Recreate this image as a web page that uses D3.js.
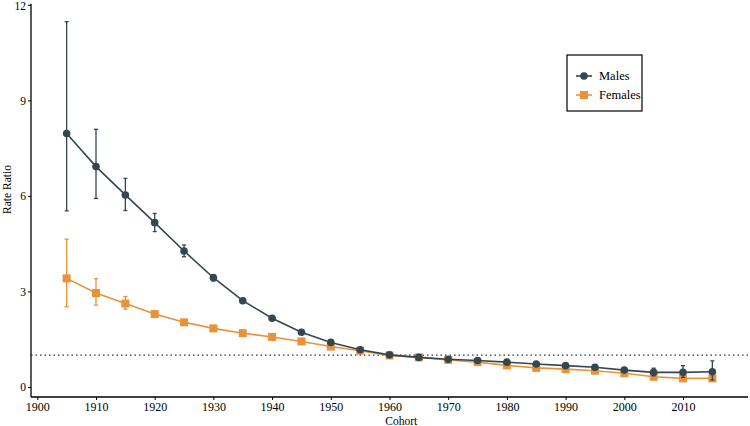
<!DOCTYPE html>
<html><head><meta charset="utf-8">
<script src="https://cdn.jsdelivr.net/npm/d3@7"></script>
<style>body{margin:0;background:#fff}svg{display:block}svg text{font-family:"Liberation Serif","Times New Roman",serif}</style>
</head><body><svg id="c" width="750" height="426"></svg>
<script>
const cohorts = [1905,1910,1915,1920,1925,1930,1935,1940,1945,1950,1955,1960,1965,1970,1975,1980,1985,1990,1995,2000,2005,2010,2015];
const malesRR    = [7.96,6.92,6.03,5.16,4.27,3.43,2.71,2.16,1.72,1.40,1.17,1.01,0.93,0.87,0.83,0.78,0.72,0.67,0.62,0.53,0.46,0.46,0.48];
const malesLow   = [5.53,5.92,5.54,4.88,4.09,3.33,2.65,2.12,1.69,1.37,1.14,0.98,0.90,0.84,0.80,0.75,0.69,0.63,0.57,0.46,0.35,0.30,0.22];
const malesHigh  = [11.47,8.09,6.55,5.45,4.46,3.53,2.77,2.20,1.75,1.43,1.20,1.04,0.96,0.90,0.86,0.81,0.75,0.71,0.67,0.61,0.59,0.67,0.82];
const femalesRR  = [3.41,2.95,2.62,2.29,2.03,1.84,1.69,1.57,1.43,1.27,1.14,0.99,0.93,0.85,0.78,0.68,0.60,0.56,0.51,0.43,0.32,0.27,0.27];
const femalesLow = [2.52,2.57,2.44,2.19,1.98,1.80,1.66,1.54,1.40,1.25,1.12,0.97,0.91,0.83,0.76,0.66,0.58,0.54,0.49,0.40,0.29,0.24,0.23];
const femalesHigh= [4.64,3.40,2.84,2.38,2.08,1.88,1.72,1.60,1.46,1.30,1.17,1.01,0.95,0.87,0.80,0.70,0.62,0.58,0.53,0.46,0.36,0.31,0.31];
const xTicks = [1900,1910,1920,1930,1940,1950,1960,1970,1980,1990,2000,2010];
const yTicks = [0,3,6,9,12];
const seriesNames = ["Males","Females"];

const colM = "#34474f", colF = "#e8923a";
const font = "Liberation Serif";
const svg = d3.select("#c");
const pLeft = 31, pRight = 748, pTop = 4.8, pBottom = 397;
const x = d3.scaleLinear().domain([1900, 2010]).range([37.3, 683]);
const y = d3.scaleLinear().domain([0, 12]).range([387, 4.8]);

// axes
const xAxis = d3.axisBottom(x).tickValues(xTicks).tickFormat(d3.format("d")).tickSize(3).tickPadding(2);
const yAxis = d3.axisLeft(y).tickValues(yTicks).tickSize(3).tickPadding(2);
const gx = svg.append("g").attr("transform", `translate(0,${pBottom})`).call(xAxis);
gx.select(".domain").remove();
const gy = svg.append("g").attr("transform", `translate(${pLeft},0)`).call(yAxis);
gy.select(".domain").remove();
[gx, gy].forEach(g => {
  g.attr("font-family", font);
  g.selectAll("text").attr("font-family", font).attr("font-size", 12).attr("fill", "#000");
  g.selectAll("line").attr("stroke", "#000").attr("stroke-width", 1);
});
gy.selectAll("text").attr("font-size", 11.5).attr("dy", d => d === 12 ? "0.45em" : "0.32em");
svg.append("line").attr("x1", pLeft).attr("x2", pRight).attr("y1", pBottom).attr("y2", pBottom).attr("stroke", "#000").attr("stroke-width", 1.3);
svg.append("line").attr("x1", pLeft).attr("x2", pLeft).attr("y1", pTop - 1).attr("y2", pBottom).attr("stroke", "#000").attr("stroke-width", 1.3);

svg.append("text").attr("x", x(1962)).attr("y", 425).attr("text-anchor", "middle")
  .attr("font-family", font).attr("font-size", 11.5).text("Cohort");
svg.append("text").attr("transform", `translate(11,${y(6.2)}) rotate(-90)`).attr("text-anchor", "middle")
  .attr("font-family", font).attr("font-size", 11.5).text("Rate Ratio");

// reference line
svg.append("line").attr("x1", pLeft).attr("x2", pRight).attr("y1", y(1)).attr("y2", y(1))
  .attr("stroke", "#333").attr("stroke-width", 1.3).attr("stroke-dasharray", "1.5,3");

function drawSeries(vals, lo, hi, col, shape) {
  const g = svg.append("g");
  cohorts.forEach((c, i) => {
    g.append("line").attr("x1", x(c)).attr("x2", x(c)).attr("y1", y(lo[i])).attr("y2", y(hi[i])).attr("stroke", col).attr("stroke-width", 1.3);
    [lo[i], hi[i]].forEach(v => g.append("line").attr("x1", x(c) - 2).attr("x2", x(c) + 2).attr("y1", y(v)).attr("y2", y(v)).attr("stroke", col).attr("stroke-width", 1.3));
  });
  g.append("path").datum(vals).attr("fill", "none").attr("stroke", col).attr("stroke-width", 1.6)
    .attr("d", d3.line().x((d, i) => x(cohorts[i])).y(d => y(d)));
  cohorts.forEach((c, i) => {
    if (shape === "circle") g.append("circle").attr("cx", x(c)).attr("cy", y(vals[i])).attr("r", 3.8).attr("fill", col);
    else g.append("rect").attr("x", x(c) - 4).attr("y", y(vals[i]) - 4).attr("width", 8).attr("height", 8).attr("fill", col);
  });
}
drawSeries(femalesRR, femalesLow, femalesHigh, colF, "rect");
drawSeries(malesRR, malesLow, malesHigh, colM, "circle");

// legend
const lg = svg.append("g");
lg.append("rect").attr("x", 567).attr("y", 55).attr("width", 75).attr("height", 56).attr("fill", "#fff").attr("stroke", "#000").attr("stroke-width", 1.2);
[[seriesNames[0], colM, "circle", 76], [seriesNames[1], colF, "rect", 95]].forEach(([name, col, shape, yy]) => {
  lg.append("line").attr("x1", 576).attr("x2", 592).attr("y1", yy).attr("y2", yy).attr("stroke", col).attr("stroke-width", 1.6);
  if (shape === "circle") lg.append("circle").attr("cx", 584).attr("cy", yy).attr("r", 3.8).attr("fill", col);
  else lg.append("rect").attr("x", 580).attr("y", yy - 4).attr("width", 8).attr("height", 8).attr("fill", col);
  lg.append("text").attr("x", 599).attr("y", yy + 4).attr("font-family", font).attr("font-size", 12.5).text(name);
});
</script></body></html>
